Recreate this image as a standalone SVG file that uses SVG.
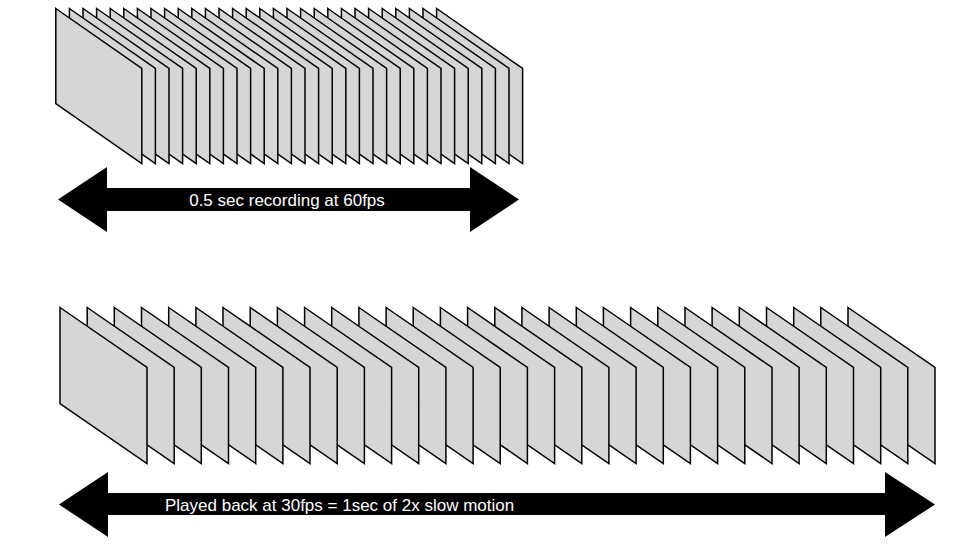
<svg xmlns="http://www.w3.org/2000/svg" xmlns:xlink="http://www.w3.org/1999/xlink" width="970" height="546" viewBox="0 0 970 546">
<style>
.f{fill:#d6d6d6;stroke:#000;stroke-width:1.5;stroke-linejoin:miter}
.a{fill:#000}
.t{fill:#fff;font-family:"Liberation Sans",Arial,sans-serif;font-size:17px}
</style>
<defs>
<polygon id="fs" class="f" points="0,0 86,60 86,155 0,95"/>
<polygon id="fb" class="f" points="0,0 87,60 87,156 0,96"/>
</defs>
<rect width="970" height="546" fill="#fff"/>
<g id="top-frames">
<use xlink:href="#fs" x="436.6" y="8.5"/><use xlink:href="#fs" x="423" y="8.5"/><use xlink:href="#fs" x="409.4" y="8.5"/><use xlink:href="#fs" x="395.8" y="8.5"/><use xlink:href="#fs" x="382.2" y="8.5"/><use xlink:href="#fs" x="368.6" y="8.5"/><use xlink:href="#fs" x="355" y="8.5"/><use xlink:href="#fs" x="341.4" y="8.5"/><use xlink:href="#fs" x="327.8" y="8.5"/><use xlink:href="#fs" x="314.2" y="8.5"/><use xlink:href="#fs" x="300.6" y="8.5"/><use xlink:href="#fs" x="287" y="8.5"/><use xlink:href="#fs" x="273.4" y="8.5"/><use xlink:href="#fs" x="259.8" y="8.5"/><use xlink:href="#fs" x="246.2" y="8.5"/><use xlink:href="#fs" x="232.6" y="8.5"/><use xlink:href="#fs" x="219" y="8.5"/><use xlink:href="#fs" x="205.4" y="8.5"/><use xlink:href="#fs" x="191.8" y="8.5"/><use xlink:href="#fs" x="178.2" y="8.5"/><use xlink:href="#fs" x="164.6" y="8.5"/><use xlink:href="#fs" x="151" y="8.5"/><use xlink:href="#fs" x="137.4" y="8.5"/><use xlink:href="#fs" x="123.8" y="8.5"/><use xlink:href="#fs" x="110.2" y="8.5"/><use xlink:href="#fs" x="96.6" y="8.5"/><use xlink:href="#fs" x="83" y="8.5"/><use xlink:href="#fs" x="69.4" y="8.5"/><use xlink:href="#fs" x="55.8" y="8.5"/>
</g>
<g id="bottom-frames">
<use xlink:href="#fb" x="848" y="307.5"/><use xlink:href="#fb" x="820.8" y="307.5"/><use xlink:href="#fb" x="793.7" y="307.5"/><use xlink:href="#fb" x="766.5" y="307.5"/><use xlink:href="#fb" x="739.3" y="307.5"/><use xlink:href="#fb" x="712.1" y="307.5"/><use xlink:href="#fb" x="685" y="307.5"/><use xlink:href="#fb" x="657.8" y="307.5"/><use xlink:href="#fb" x="630.6" y="307.5"/><use xlink:href="#fb" x="603.4" y="307.5"/><use xlink:href="#fb" x="576.3" y="307.5"/><use xlink:href="#fb" x="549.1" y="307.5"/><use xlink:href="#fb" x="521.9" y="307.5"/><use xlink:href="#fb" x="494.8" y="307.5"/><use xlink:href="#fb" x="467.6" y="307.5"/><use xlink:href="#fb" x="440.4" y="307.5"/><use xlink:href="#fb" x="413.2" y="307.5"/><use xlink:href="#fb" x="386.1" y="307.5"/><use xlink:href="#fb" x="358.9" y="307.5"/><use xlink:href="#fb" x="331.7" y="307.5"/><use xlink:href="#fb" x="304.6" y="307.5"/><use xlink:href="#fb" x="277.4" y="307.5"/><use xlink:href="#fb" x="250.2" y="307.5"/><use xlink:href="#fb" x="223" y="307.5"/><use xlink:href="#fb" x="195.9" y="307.5"/><use xlink:href="#fb" x="168.7" y="307.5"/><use xlink:href="#fb" x="141.5" y="307.5"/><use xlink:href="#fb" x="114.3" y="307.5"/><use xlink:href="#fb" x="87.2" y="307.5"/><use xlink:href="#fb" x="60" y="307.5"/>
</g>
<g id="connectors">
<polygon class="a" points="58,199.5 107,167 107,188 470,188 470,167 519,199.5 470,232 470,211 107,211 107,232"/>
<polygon class="a" points="59,504.5 108,472 108,493 885,493 885,472 935,504.5 885,537 885,515 108,515 108,537"/>
</g>
<g id="labels">
<text class="t" x="287" y="205.5" text-anchor="middle">0.5 sec recording at 60fps</text>
<text class="t" x="165" y="510.5">Played back at 30fps = 1sec of 2x slow motion</text>
</g>
</svg>
